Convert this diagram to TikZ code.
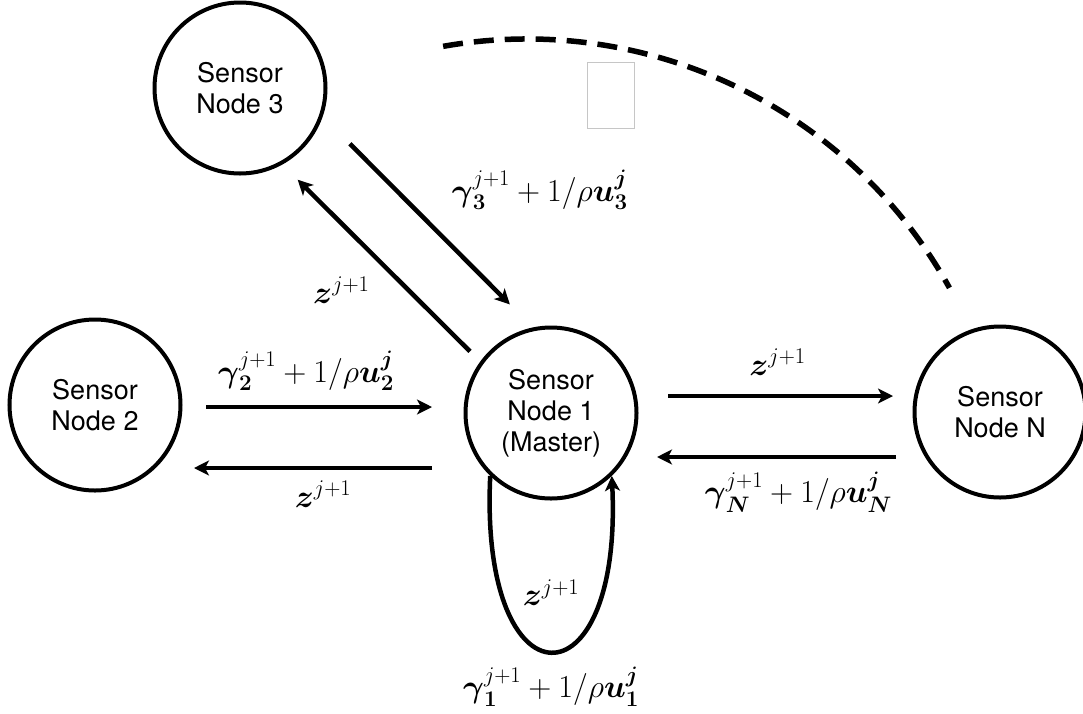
\RequirePackage{fix-cm}
\documentclass[tikz,border=0pt]{standalone}
\usepackage{amsmath,amssymb}
\usepackage{fontspec}
\newfontfamily\helv{TeX Gyre Heros}
\usepackage{tikz}
\usetikzlibrary{arrows.meta,calc}
\newcommand{\bv}[1]{\boldsymbol{#1}}

\begin{document}
\begin{tikzpicture}[
  x=1pt, y=1pt,
  sensor/.style={draw, circle, line width=4pt, minimum size=171pt, inner sep=0pt,
                 align=center, font=\helv\fontsize{27}{31}\selectfont},
  arrow/.style={-{Stealth[length=15pt, width=15pt, inset=4pt]}, line width=4.5pt},
  lbl/.style={font=\fontsize{32}{38}\selectfont, inner sep=0pt},
  ring/.style={line width=5.5pt, dash pattern=on 20pt off 11pt},
]
\useasboundingbox (0,0) rectangle (1083,-713);

%% ── Sensor nodes ──────────────────────────────────────────────────────────
\node[sensor] (n3) at (240,-88)   {Sensor\\Node 3};
\node[sensor] (n2) at (95,-405)   {Sensor\\Node 2};
\node[sensor] (n1) at (551,-413)  {Sensor\\Node 1\\(Master)};
\node[sensor] (nN) at (1000,-412) {Sensor\\Node N};

%% ── Links to node 2 ───────────────────────────────────────────────────────
\draw[arrow, shorten <=23.5pt, shorten >=31.5pt] ([yshift=-2pt]n2.east) -- ([yshift=6pt]n1.west)
  node[lbl, midway, xshift=-17pt, yshift=36pt]
    {$\bv{\gamma}_{\bv{2}}^{j+1}+1/\rho\bv{u}_{\bv{2}}^{\bv{j}}$};
\draw[arrow, shorten <=31.5pt, shorten >=11.5pt] ([yshift=-55pt]n1.west) -- ([yshift=-63pt]n2.east)
  node[lbl, midway, yshift=-26pt] {$\bv{z}^{j+1}$};

%% ── Links to node N ───────────────────────────────────────────────────────
\draw[arrow, shorten <=29.5pt, shorten >=19.5pt] ([yshift=17pt]n1.east) -- ([yshift=16pt]nN.west)
  node[lbl, midway, xshift=2pt, yshift=34pt] {$\bv{z}^{j+1}$};
\draw[arrow, shorten <=16.5pt, shorten >=18.5pt] ([yshift=-45pt]nN.west) -- ([yshift=-44pt]n1.east)
  node[lbl, midway, xshift=23pt, yshift=-35pt]
    {$\bv{\gamma}_{\bv{N}}^{j+1}+1/\rho\bv{u}_{\bv{N}}^{\bv{j}}$};

%% ── Links to node 3 ───────────────────────────────────────────────────────
\draw[arrow, shorten <=38.5pt, shorten >=32.5pt] (n3.-19) -- (n1.102)
  node[lbl, midway, xshift=112pt, yshift=32pt]
    {$\bv{\gamma}_{\bv{3}}^{j+1}+1/\rho\bv{u}_{\bv{3}}^{\bv{j}}$};
\draw[arrow, shorten <=14.5pt, shorten >=21.5pt] (n1.144.5) -- (n3.-61)
  node[lbl, midway, xshift=-40pt, yshift=-27pt] {$\bv{z}^{j+1}$};

%% ── Self loop of the master ───────────────────────────────────────────────
\draw[arrow] (n1.226) .. controls (479,-710) and (623,-710) .. (n1.-46)
  node[lbl, pos=0.5, yshift=59pt] {$\bv{z}^{j+1}$}
  node[lbl, pos=0.5, yshift=-35pt]
    {$\bv{\gamma}_{\bv{1}}^{j+1}+1/\rho\bv{u}_{\bv{1}}^{\bv{j}}$};

%% ── Further nodes (dashed) ────────────────────────────────────────────────
\draw[ring] (527,-522) ++(100:483pt) arc[start angle=100, end angle=29, radius=483pt];
\draw[gray!45, line width=1pt] (587,-62) rectangle (634,-128);

\end{tikzpicture}
\end{document}
